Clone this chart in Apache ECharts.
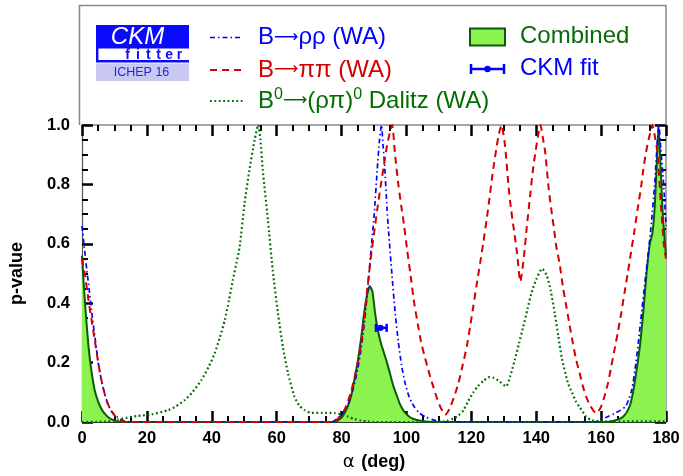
<!DOCTYPE html>
<html>
<head>
<meta charset="utf-8">
<script src="https://cdn.jsdelivr.net/npm/echarts@6/dist/echarts.min.js"></script>
<style>html,body{margin:0;padding:0;background:#fff}#c{width:683px;height:476px}</style>
</head>
<body>
<div id="c"></div>
<script>
// ---- data ----
const xTicks = [0, 20, 40, 60, 80, 100, 120, 140, 160, 180];
const yTicks = [0.0, 0.2, 0.4, 0.6, 0.8, 1.0];

const alphaCombined = [0,0.5,1,1.5,2,2.5,3,3.5,4,5,6,7,8,9,10,11,12,78,79,80,81,82,83,84,85,86,87,88,88.7,89.5,90.3,91,92,93,94,95,96,97,98,99,100,101,102,104,106,110,162,164,166,167,168,169,170,171,172,173,174,175,175.8,176.5,177.2,177.7,178.3,179,180];
const pCombined     = [0.56,0.47,0.39,0.32,0.255,0.205,0.165,0.13,0.103,0.068,0.044,0.028,0.017,0.01,0.005,0.002,0,0,0.006,0.015,0.032,0.055,0.09,0.145,0.205,0.28,0.37,0.435,0.458,0.44,0.37,0.32,0.27,0.235,0.2,0.16,0.12,0.09,0.06,0.04,0.027,0.017,0.011,0.005,0.002,0,0,0.004,0.012,0.02,0.035,0.06,0.11,0.18,0.26,0.37,0.5,0.6,0.635,0.72,0.88,0.995,0.87,0.7,0.56];

const alphaRhoRho = [0,0.5,1,1.5,2,3,4,5,6,7,8,9,10,11,12,13,15,77,78,79,80,81,82,83,84,85,86,87,88,89,90,91,91.7,92.3,92.8,93.3,94,94.5,95.5,96.5,97.5,98.5,99.5,100.5,101.5,102.5,104,106,108,110,112,158,160,162,164,166,167.5,168.5,169.5,170.5,171.5,172.5,173.5,174.5,175.5,176.5,177.3,177.8,178.4,179,179.5,180];
const pRhoRho     = [0.66,0.61,0.56,0.51,0.465,0.37,0.285,0.2,0.14,0.093,0.06,0.038,0.025,0.016,0.009,0.004,0,0,0.006,0.014,0.025,0.04,0.06,0.09,0.13,0.18,0.245,0.33,0.44,0.57,0.69,0.85,0.95,1.0,0.93,0.86,0.72,0.64,0.5,0.37,0.27,0.19,0.135,0.095,0.068,0.05,0.03,0.016,0.008,0.003,0,0,0.008,0.018,0.028,0.04,0.052,0.075,0.11,0.18,0.27,0.37,0.47,0.565,0.67,0.8,0.94,1.0,0.92,0.84,0.76,0.66];

const alphaPiPi = [0,0.5,1,2,3,4,5,6,7,8,9,10,11,12,13,14,77,78,79,80,81,82,83,84,85,86,87,88,89,90,91,92,93,94,95,95.6,96.5,97.5,98.5,99.3,100.2,101.2,102.4,103.5,104.5,105.5,106.5,107.5,108.4,109.4,110.4,111.2,111.9,112.7,113.5,114.7,116,117.3,118.6,119.6,120.6,121.6,122.7,123.7,124.7,125.5,126.3,127,127.8,128.5,129.3,130.4,131.5,132.2,133,134.1,135.1,136.1,137.1,138.2,139,139.7,140.5,141.3,142,142.8,143.8,144.6,145.4,146.2,147.2,148.3,149.3,150.3,151.3,152.3,153.4,154.4,155.4,156.5,157.5,158.5,159.2,160,161,162.1,163.1,164.1,165.2,166.2,167.2,168.2,169.2,170.3,171.3,172.3,173,173.8,174.6,175.4,175.8,176.6,177.4,178.4,179.4,180];
const pPiPi     = [0.55,0.52,0.49,0.41,0.34,0.27,0.2,0.14,0.095,0.06,0.038,0.022,0.012,0.005,0.001,0,0,0.004,0.012,0.025,0.043,0.07,0.105,0.15,0.2,0.26,0.35,0.455,0.55,0.635,0.715,0.79,0.86,0.93,0.98,1.0,0.9,0.8,0.72,0.66,0.58,0.5,0.4,0.33,0.27,0.225,0.185,0.145,0.115,0.08,0.052,0.035,0.024,0.033,0.05,0.085,0.13,0.19,0.254,0.32,0.388,0.46,0.534,0.605,0.68,0.745,0.815,0.87,0.927,0.97,1.0,0.93,0.79,0.72,0.657,0.568,0.472,0.545,0.657,0.77,0.85,0.905,0.96,1.0,0.96,0.905,0.79,0.72,0.657,0.59,0.534,0.45,0.388,0.325,0.265,0.21,0.164,0.12,0.085,0.058,0.04,0.029,0.037,0.052,0.085,0.13,0.185,0.242,0.305,0.366,0.435,0.5,0.57,0.646,0.72,0.79,0.85,0.905,0.95,0.983,1.0,0.96,0.905,0.736,0.59,0.55];

const alphaDalitz = [0,8,11,14,17,21.5,26.6,29,31.7,34,36.8,39,40.9,42.5,44,45.3,46.5,47.6,48.6,50.1,51.6,53.2,54.3,55,55.7,57.3,58.8,60.4,61.9,63.5,65.5,67,68.6,70.6,74,78,80,82,84,86,88,90,110,112.5,114.6,116,117.6,119,120.6,122,123.7,125.7,127,128.3,130.7,132,133.4,134.7,136,137.3,138.5,140,141.8,143.2,144.5,145.7,146.8,147.9,149.8,151,152.2,153.4,155.4,157,160,180];
const pDalitz     = [0,0.002,0.008,0.015,0.02,0.026,0.04,0.053,0.074,0.1,0.141,0.185,0.231,0.285,0.343,0.41,0.478,0.535,0.59,0.736,0.848,0.95,1.0,0.95,0.85,0.68,0.51,0.366,0.254,0.164,0.085,0.055,0.04,0.031,0.031,0.03,0.025,0.018,0.01,0.005,0.002,0,0,0.004,0.012,0.022,0.04,0.07,0.1,0.12,0.138,0.152,0.148,0.14,0.12,0.155,0.209,0.265,0.321,0.38,0.433,0.48,0.516,0.495,0.44,0.366,0.29,0.215,0.13,0.1,0.07,0.05,0.018,0.006,0.002,0.002];

// CKM fit: central alpha, p-value level, lower and upper alpha
const ckmFit = [92.0, 0.317, 90.6, 93.9];

const pairs = (xs, ys) => xs.map((x, i) => [x, ys[i]]);

const FONT = 'Liberation Sans, Arial, Helvetica, sans-serif';
const AFONT = 'DejaVu Sans, ' + FONT;
const BLUE = '#0000ff', RED = '#d40000', DGREEN = '#006e00', FILL = '#8cf250', LINEG = '#0b5a0b';
const LFS = 24;

function axisCommon(extra) {
  return Object.assign({
    type: 'value',
    axisLine: { show: true, onZero: false, lineStyle: { color: '#555', width: 1.2 } },
    axisTick: { show: true, inside: true, length: 11, lineStyle: { color: '#000', width: 2.5 } },
    minorTick: { show: true, splitNumber: 4, length: 6, lineStyle: { color: '#000', width: 2 } },
    splitLine: { show: false },
    minorSplitLine: { show: false }
  }, extra);
}

function legendRich(color) {
  return {
    n: { fill: color, font: LFS + 'px ' + FONT },
    a: { fill: color, font: '17px ' + AFONT },
    s: { fill: color, font: '16px ' + FONT, padding: [0, 0, 13, 0] }
  };
}

const chart = echarts.init(document.getElementById('c'), null, { renderer: 'canvas' });

const graphics = [];
// outer frame extension above plot
graphics.push({ type: 'polyline', shape: { points: [[79.5, 125], [79.5, 5.5], [666, 5.5], [666, 125]] }, style: { stroke: '#888', lineWidth: 1.5, fill: null }, z: 10 });
// logo
graphics.push({ type: 'rect', shape: { x: 96, y: 25, width: 93, height: 23.5 }, style: { fill: '#0a0aff' } });
graphics.push({ type: 'rect', shape: { x: 96, y: 48, width: 2.4, height: 14 }, style: { fill: '#0a0aff' } });
graphics.push({ type: 'rect', shape: { x: 96, y: 60, width: 93, height: 2.4 }, style: { fill: '#0a0aff' } });
graphics.push({ type: 'rect', shape: { x: 96, y: 63.5, width: 93, height: 17.5 }, style: { fill: '#c8c8f2' } });
graphics.push({ type: 'text', x: 137.5, y: 37, style: { text: 'CKM', fill: '#fff', font: 'italic 24px ' + FONT, textAlign: 'center', textVerticalAlign: 'middle' } });
'fitter'.split('').forEach((ch, i) => {
  graphics.push({ type: 'text', x: 127.5 + i * 10.4, y: 55, style: { text: ch, fill: '#0a0aff', font: 'bold 14px ' + FONT, textAlign: 'center', textVerticalAlign: 'middle' } });
});
graphics.push({ type: 'text', x: 141.5, y: 72.5, style: { text: 'ICHEP 16', fill: '#2424d8', font: '12.5px ' + FONT, textAlign: 'center', textVerticalAlign: 'middle' } });

// legend: left column
const LX1 = 210, LX2 = 243, TX = 258;
graphics.push({ type: 'line', shape: { x1: LX1, y1: 37.5, x2: LX2, y2: 37.5 }, style: { stroke: BLUE, lineWidth: 1.6, lineDash: [5, 3, 1.5, 3] } });
graphics.push({ type: 'text', x: TX, y: 37.5, style: { text: '{n|B}{a|⟶}{n|ρρ (WA)}', textVerticalAlign: 'middle', rich: legendRich(BLUE) } });
graphics.push({ type: 'line', shape: { x1: LX1, y1: 70, x2: LX2, y2: 70 }, style: { stroke: RED, lineWidth: 2, lineDash: [7, 5] } });
graphics.push({ type: 'text', x: TX, y: 70, style: { text: '{n|B}{a|⟶}{n|ππ (WA)}', textVerticalAlign: 'middle', rich: legendRich(RED) } });
graphics.push({ type: 'line', shape: { x1: LX1, y1: 101, x2: LX2, y2: 101 }, style: { stroke: DGREEN, lineWidth: 2.2, lineDash: [1.8, 2.6] } });
graphics.push({ type: 'text', x: TX, y: 101, style: {
  text: '{n|B}{s|0}{a|⟶}{n|(ρπ)}{s|0}{n| Dalitz (WA)}', textVerticalAlign: 'middle', rich: legendRich(DGREEN) } });
// legend: right column
graphics.push({ type: 'rect', shape: { x: 470, y: 28.5, width: 35, height: 17 }, style: { fill: FILL, stroke: LINEG, lineWidth: 2 } });
graphics.push({ type: 'text', x: 520, y: 36.5, style: { text: 'Combined', fill: '#0a6a0a', font: LFS + 'px ' + FONT, textVerticalAlign: 'middle' } });
graphics.push({ type: 'line', shape: { x1: 471, y1: 69, x2: 504, y2: 69 }, style: { stroke: BLUE, lineWidth: 2.5 } });
graphics.push({ type: 'line', shape: { x1: 471, y1: 64, x2: 471, y2: 74 }, style: { stroke: BLUE, lineWidth: 2.5 } });
graphics.push({ type: 'line', shape: { x1: 504, y1: 64, x2: 504, y2: 74 }, style: { stroke: BLUE, lineWidth: 2.5 } });
graphics.push({ type: 'circle', shape: { cx: 487.5, cy: 69, r: 3.2 }, style: { fill: BLUE } });
graphics.push({ type: 'text', x: 520, y: 68, style: { text: 'CKM fit', fill: BLUE, font: LFS + 'px ' + FONT, textVerticalAlign: 'middle' } });

const option = {
  animation: false,
  backgroundColor: '#fff',
  grid: { left: 79, right: 17, top: 125, bottom: 54, containLabel: false },
  xAxis: [
    axisCommon({
      min: xTicks[0], max: xTicks[xTicks.length - 1], interval: xTicks[1] - xTicks[0], position: 'bottom',
      axisLine: { show: true, onZero: false, lineStyle: { color: '#333', width: 1.2 } },
      axisLabel: { show: true, margin: 8, color: '#000', fontFamily: FONT, fontWeight: 'bold', fontSize: 16.5 },
      name: '{g|α}  {b|(deg)}', nameLocation: 'middle', nameGap: 31,
      nameTextStyle: { rich: { g: { fontFamily: AFONT, fontSize: 18, color: '#000' }, b: { fontFamily: FONT, fontWeight: 'bold', fontSize: 18, color: '#000' } } }
    }),
    axisCommon({
      min: xTicks[0], max: xTicks[xTicks.length - 1], interval: xTicks[1] - xTicks[0], position: 'top',
      axisLine: { show: true, onZero: false, lineStyle: { color: '#888', width: 1.5 } },
      axisLabel: { show: false }
    })
  ],
  yAxis: [
    axisCommon({
      min: yTicks[0], max: yTicks[yTicks.length - 1], interval: yTicks[1] - yTicks[0], position: 'left',
      axisLabel: { show: true, margin: 12, color: '#000', fontFamily: FONT, fontWeight: 'bold', fontSize: 16.5, formatter: v => v.toFixed(1) },
      name: 'p-value', nameLocation: 'middle', nameGap: 56, nameRotate: 90,
      nameTextStyle: { fontFamily: FONT, fontWeight: 'bold', fontSize: 18, color: '#000' }
    }),
    axisCommon({
      min: yTicks[0], max: yTicks[yTicks.length - 1], interval: yTicks[1] - yTicks[0], position: 'right',
      axisLine: { show: true, onZero: false, lineStyle: { color: '#888', width: 1.5 } },
      axisLabel: { show: false }
    })
  ],
  series: [
    {
      name: 'Combined', type: 'line', data: pairs(alphaCombined, pCombined), smooth: 0.2, symbol: 'none', clip: true, z: 1,
      lineStyle: { color: LINEG, width: 2 }, areaStyle: { color: FILL, opacity: 1 }
    },
    {
      name: 'B→ρρ (WA)', type: 'line', data: pairs(alphaRhoRho, pRhoRho), smooth: 0.2, symbol: 'none', clip: true, z: 3,
      lineStyle: { color: BLUE, width: 1.7, type: [5, 3, 1.5, 3] }
    },
    {
      name: 'B→ππ (WA)', type: 'line', data: pairs(alphaPiPi, pPiPi), smooth: 0.2, symbol: 'none', clip: true, z: 3,
      lineStyle: { color: RED, width: 2, type: [7, 5] }
    },
    {
      name: 'Dalitz', type: 'line', data: pairs(alphaDalitz, pDalitz), smooth: 0.2, symbol: 'none', clip: true, z: 3,
      lineStyle: { color: DGREEN, width: 2.2, type: [1.8, 2.6] }
    },
    {
      name: 'CKM fit', type: 'custom', z: 5, data: [ckmFit],
      renderItem: function (params, api) {
        const c = api.coord([api.value(0), api.value(1)]);
        const l = api.coord([api.value(2), api.value(1)]);
        const r = api.coord([api.value(3), api.value(1)]);
        const st = { stroke: BLUE, lineWidth: 2.5 };
        return { type: 'group', children: [
          { type: 'line', shape: { x1: l[0], y1: c[1], x2: r[0], y2: c[1] }, style: st },
          { type: 'line', shape: { x1: l[0], y1: c[1] - 4, x2: l[0], y2: c[1] + 4 }, style: st },
          { type: 'line', shape: { x1: r[0], y1: c[1] - 4, x2: r[0], y2: c[1] + 4 }, style: st },
          { type: 'circle', shape: { cx: c[0], cy: c[1], r: 3.2 }, style: { fill: BLUE } }
        ] };
      }
    }
  ],
  graphic: graphics
};
chart.setOption(option);
</script>
</body>
</html>
